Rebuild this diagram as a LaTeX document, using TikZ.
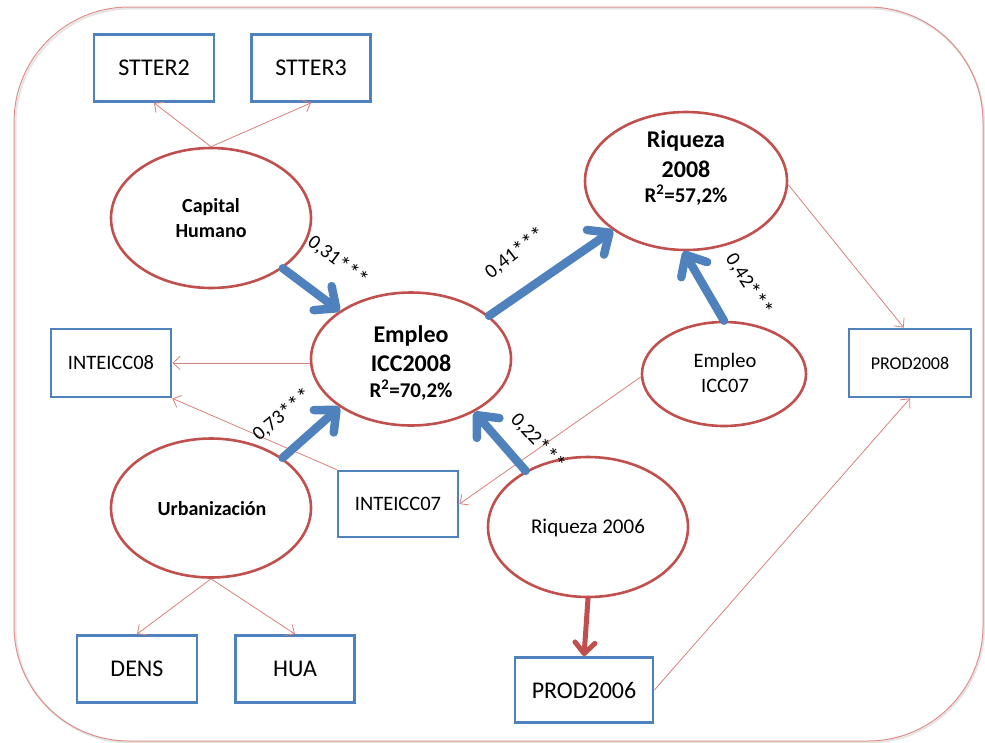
\documentclass[tikz,border=0pt]{standalone}
\usepackage{fontspec}
\setmainfont{Carlito}
\usetikzlibrary{arrows.meta,shapes.geometric}
\definecolor{accblue}{HTML}{4F81BD}
\definecolor{accred}{HTML}{C0504D}
\definecolor{thinred}{HTML}{D8807C}
\definecolor{framered}{HTML}{DE8E8A}
% significance stars, set a little lower and larger than the font's own
\newcommand{\sigstars}{\raisebox{-2pt}{\scalebox{1.15}{***}}}
\begin{document}
\begin{tikzpicture}[x=1pt,y=-1pt,
  latent/.style={ellipse, draw=accred, line width=2.6pt, inner sep=0pt},
  manifest/.style={rectangle, draw=accblue, line width=2.8pt, inner sep=0pt,
    font=\fontsize{24}{29}\selectfont},
  loading/.style={draw=thinred, line width=0.8pt,
    -{Straight Barb[length=7pt,width=13pt]}},
  effect/.style={draw=accblue, line width=8.5pt, line cap=round,
    -{Straight Barb[length=17pt,width=30pt,round]}},
  coef/.style={font=\fontsize{20}{24}\selectfont, inner sep=0pt},
  lattext/.style={align=center, inner sep=0pt},
]
\useasboundingbox (0,0) rectangle (985,742);

% outer frame with a soft shadow
\draw[black!10, line width=2pt, rounded corners=115pt] (15.5,8.5) rectangle (984,742.5);
\draw[framered, line width=1pt, rounded corners=115pt] (14,7) rectangle (983,741);

% latent constructs
\node[latent, minimum width=200pt, minimum height=140pt] (cap)   at (211,218) {};
\node[latent, minimum width=200pt, minimum height=133pt] (emp)   at (411,359) {};
\node[latent, minimum width=202pt, minimum height=138pt] (riq08) at (686,181) {};
\node[latent, minimum width=164pt, minimum height=104pt] (e07)   at (724,374) {};
\node[latent, minimum width=200pt, minimum height=140pt] (r06)   at (588,527) {};
\node[latent, minimum width=200pt, minimum height=139pt] (urb)   at (211,508) {};

% texts of the constructs
\node[lattext, font=\bfseries\fontsize{20}{25}\selectfont] (capT) at (211,218) {Capital\\Humano};
\node[lattext, font=\bfseries\fontsize{24}{29}\selectfont] (empT) at (411,363)
  {Empleo\\ICC2008\\[-3pt]{\fontsize{21}{25}\selectfont R\textsuperscript{2}=70,2\%}};
\node[lattext, font=\bfseries\fontsize{24}{30}\selectfont] (riq08T) at (686,168)
  {Riqueza\\2008\\[-5pt]{\fontsize{21}{25}\selectfont R\textsuperscript{2}=57,2\%}};
\node[lattext, font=\fontsize{20.5}{25}\selectfont] (e07T) at (725,373) {Empleo\\ICC07};
\node[lattext, font=\fontsize{21}{25}\selectfont, anchor=base] (r06T) at (588,533) {Riqueza 2006};
\node[lattext, font=\bfseries\fontsize{20}{25}\selectfont, anchor=base] (urbT) at (212,515) {Urbanización};

% indicators
\node[manifest, minimum width=120pt, minimum height=67pt] (s2)     at (154,68)  {STTER2};
\node[manifest, minimum width=119pt, minimum height=67pt] (s3)     at (311,68)  {STTER3};
\node[manifest, minimum width=120pt, minimum height=68pt,
      font=\fontsize{20.5}{25}\selectfont] (inte08) at (111,363) {INTEICC08};
\node[manifest, minimum width=120pt, minimum height=66pt,
      font=\fontsize{20.5}{25}\selectfont] (inte07) at (398,504) {INTEICC07};
\node[manifest, minimum width=122pt, minimum height=68pt,
      font=\fontsize{18}{22}\selectfont] (p08)    at (910,363) {PROD2008};
\node[manifest, minimum width=120pt, minimum height=67pt] (dens)   at (137,669) {DENS};
\node[manifest, minimum width=119pt, minimum height=67pt] (hua)    at (295,669) {HUA};
\node[manifest, minimum width=138pt, minimum height=65pt] (p06)    at (584,690) {PROD2006};

% measurement links
\draw[loading] (cap.north) -- (s2.south);
\draw[loading] (cap.north) -- (s3.south);
\draw[loading] (urb.south) -- (dens.north);
\draw[loading] (urb.south) -- (hua.north);
\draw[loading] (emp.west |- inte08) -- (inte08.east);
\draw[loading] (inte07.north west) -- (inte08.south east);
\draw[loading] (e07.182) -- (inte07.east);
\draw[loading] (riq08.-2) -- (p08.100);
\draw[loading] (p06.east) -- (p08.south);

% structural paths
\draw[effect] (cap.-35) -- (emp.146);
\draw[effect] (emp.29) -- (riq08.214);
\draw[effect] (e07.north) -- (riq08.268);
\draw[effect] (urb.35) -- (emp.214);
\draw[effect] (r06.138) -- (emp.-40);
\draw[accred, line width=5pt, line cap=round,
  -{Straight Barb[length=11pt,width=20pt,round]}] (r06.south) -- (p06.north);

% path coefficients
\node[coef, rotate=-37] (c31) at (338,261) {0,31\sigstars};
\node[coef, rotate=38]  (c41) at (515,253) {0,41\sigstars};
\node[coef, rotate=-57] (c42) at (749,285) {0,42\sigstars};
\node[coef, rotate=40]  (c73) at (282,415) {0,73\sigstars};
\node[coef, rotate=-47] (c22) at (538,442) {0,22\sigstars};
\end{tikzpicture}
\end{document}
